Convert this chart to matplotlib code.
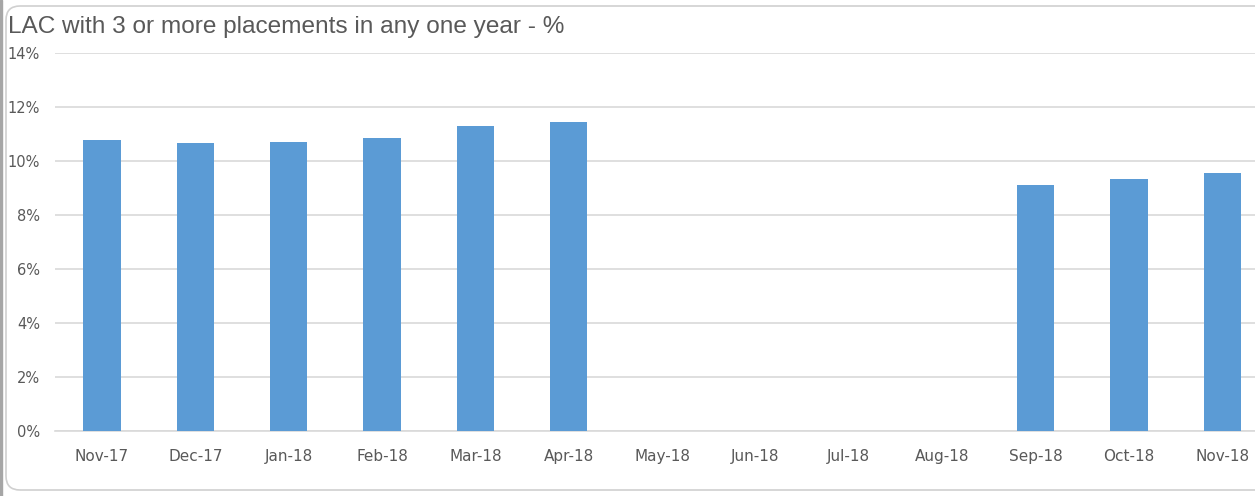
import matplotlib.pyplot as plt
from matplotlib.patches import FancyBboxPatch
from matplotlib.ticker import FuncFormatter
import numpy as np

# months shown on the x axis
months = ["Nov-17", "Dec-17", "Jan-18", "Feb-18", "Mar-18", "Apr-18", "May-18",
          "Jun-18", "Jul-18", "Aug-18", "Sep-18", "Oct-18", "Nov-18"]
# % of LAC with 3+ placements (no data May-Aug 18)
values = [10.77, 10.66, 10.69, 10.82, 11.28, 11.44, np.nan,
          np.nan, np.nan, np.nan, 9.10, 9.31, 9.55]

bar_col = "#5b9bd5"
txt_col = "#595959"
grid_col = "#d9d9d9"

fig = plt.figure(figsize=(12.55, 4.96), dpi=100)
ax = fig.add_axes([0.0441, 0.132, 0.967, 0.762])

x = np.arange(len(months))
ax.bar(x, values, width=0.4, color=bar_col, zorder=3)

ax.set_xlim(-0.5, len(months) - 0.5)
ax.set_ylim(0, 14)
ax.set_yticks(range(0, 15, 2))
ax.yaxis.set_major_formatter(FuncFormatter(lambda v, p: f"{v:.0f}%"))
ax.set_xticks(x)
ax.set_xticklabels(months)

ax.grid(axis="y", color=grid_col, linewidth=1.2, zorder=0)
for s in ["top", "right", "left"]:
    ax.spines[s].set_visible(False)
ax.spines["bottom"].set_color(grid_col)
ax.spines["bottom"].set_linewidth(1.2)
ax.tick_params(axis="both", length=0, labelcolor=txt_col, labelsize=11)
ax.tick_params(axis="y", pad=11, labelsize=10.5)
ax.tick_params(axis="x", pad=13)

# chart border and title
fig.patches.append(FancyBboxPatch((6, 6), 1300, 484, boxstyle="round,pad=0,rounding_size=14",
                                  transform=None, fill=False, edgecolor="#d0d0d0", linewidth=1.2,
                                  zorder=-1))
fig.patches.append(plt.Rectangle((0, 0), 2, 496, transform=None, color="#a6a6a6", zorder=-1))
fig.text(8 / 1255, 1 - 27 / 496, "LAC with 3 or more placements in any one year - %",
         fontsize=17.6, color=txt_col, va="center", ha="left", family="Liberation Sans")

fig.savefig("out.png", dpi=100)
